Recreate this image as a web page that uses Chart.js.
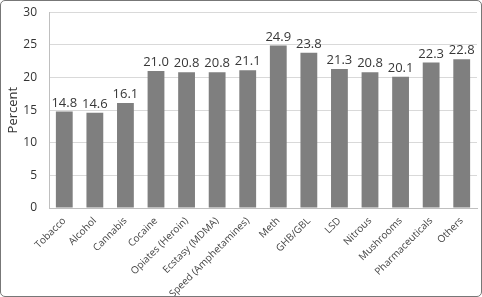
<!DOCTYPE html>
<html><head><meta charset="utf-8">
<script src="https://cdn.jsdelivr.net/npm/chart.js@4/dist/chart.umd.min.js"></script>
<style>
html,body{margin:0;padding:0;background:#fff;}
#wrap{position:absolute;left:0;top:0;width:480px;height:295px;border:1px solid #777;border-radius:5px;overflow:hidden;}
canvas{display:block;position:absolute;left:0;top:-8px;}
</style></head><body>
<div id="wrap"><canvas id="c" width="480" height="303"></canvas></div>
<script>
const categories = ["Tobacco","Alcohol","Cannabis","Cocaine","Opiates (Heroin)","Ecstasy (MDMA)","Speed (Amphetamines)","Meth","GHB/GBL","LSD","Nitrous","Mushrooms","Pharmaceuticals","Others"];
const percentValues = [14.8,14.6,16.1,21.0,20.8,20.8,21.1,24.9,23.8,21.3,20.8,20.1,22.3,22.8];
const yTicks = [0,5,10,15,20,25,30];

const valueLabels = {
  id:'valueLabels',
  afterDatasetsDraw(chart){
    const ctx = chart.ctx;
    const meta = chart.getDatasetMeta(0);
    ctx.save();
    ctx.font = '13px "Open Sans", sans-serif';
    ctx.fillStyle = '#383838';
    ctx.textAlign = 'center';
    ctx.textBaseline = 'bottom';
    meta.data.forEach((bar,i)=>{
      ctx.fillText(percentValues[i].toFixed(1), bar.x, bar.y - 2);
    });
    ctx.restore();
  }
};

new Chart(document.getElementById('c'), {
  type:'bar',
  data:{labels:categories,datasets:[{data:percentValues,backgroundColor:'#7f7f7f',borderWidth:0,barPercentage:0.55,categoryPercentage:1}]},
  options:{
    responsive:false,animation:false,
    layout:{padding:{left:4,right:4,top:0,bottom:0}},
    plugins:{legend:{display:false},tooltip:{enabled:false}},
    scales:{
      x:{grid:{display:false,drawTicks:false},border:{color:'#bfbfbf'},
        afterFit(s){s.height=88;},
        ticks:{color:'#444',font:{family:'"Open Sans", sans-serif',size:10},minRotation:45,maxRotation:45,autoSkip:false,padding:7}},
      y:{min:0,max:30,afterBuildTicks(ax){ax.ticks=yTicks.map(v=>({value:v}));},
        afterFit(s){s.width=44;},
        grid:{color:'#d9d9d9',drawTicks:false},border:{color:'#bfbfbf'},
        ticks:{color:'#333',font:{family:'"Open Sans", sans-serif',size:12},padding:12},
        title:{display:true,text:'Percent',color:'#333',font:{family:'"Open Sans", sans-serif',size:13},padding:{top:0,bottom:0}}}
    }
  },
  plugins:[valueLabels]
});
</script>
</body></html>
